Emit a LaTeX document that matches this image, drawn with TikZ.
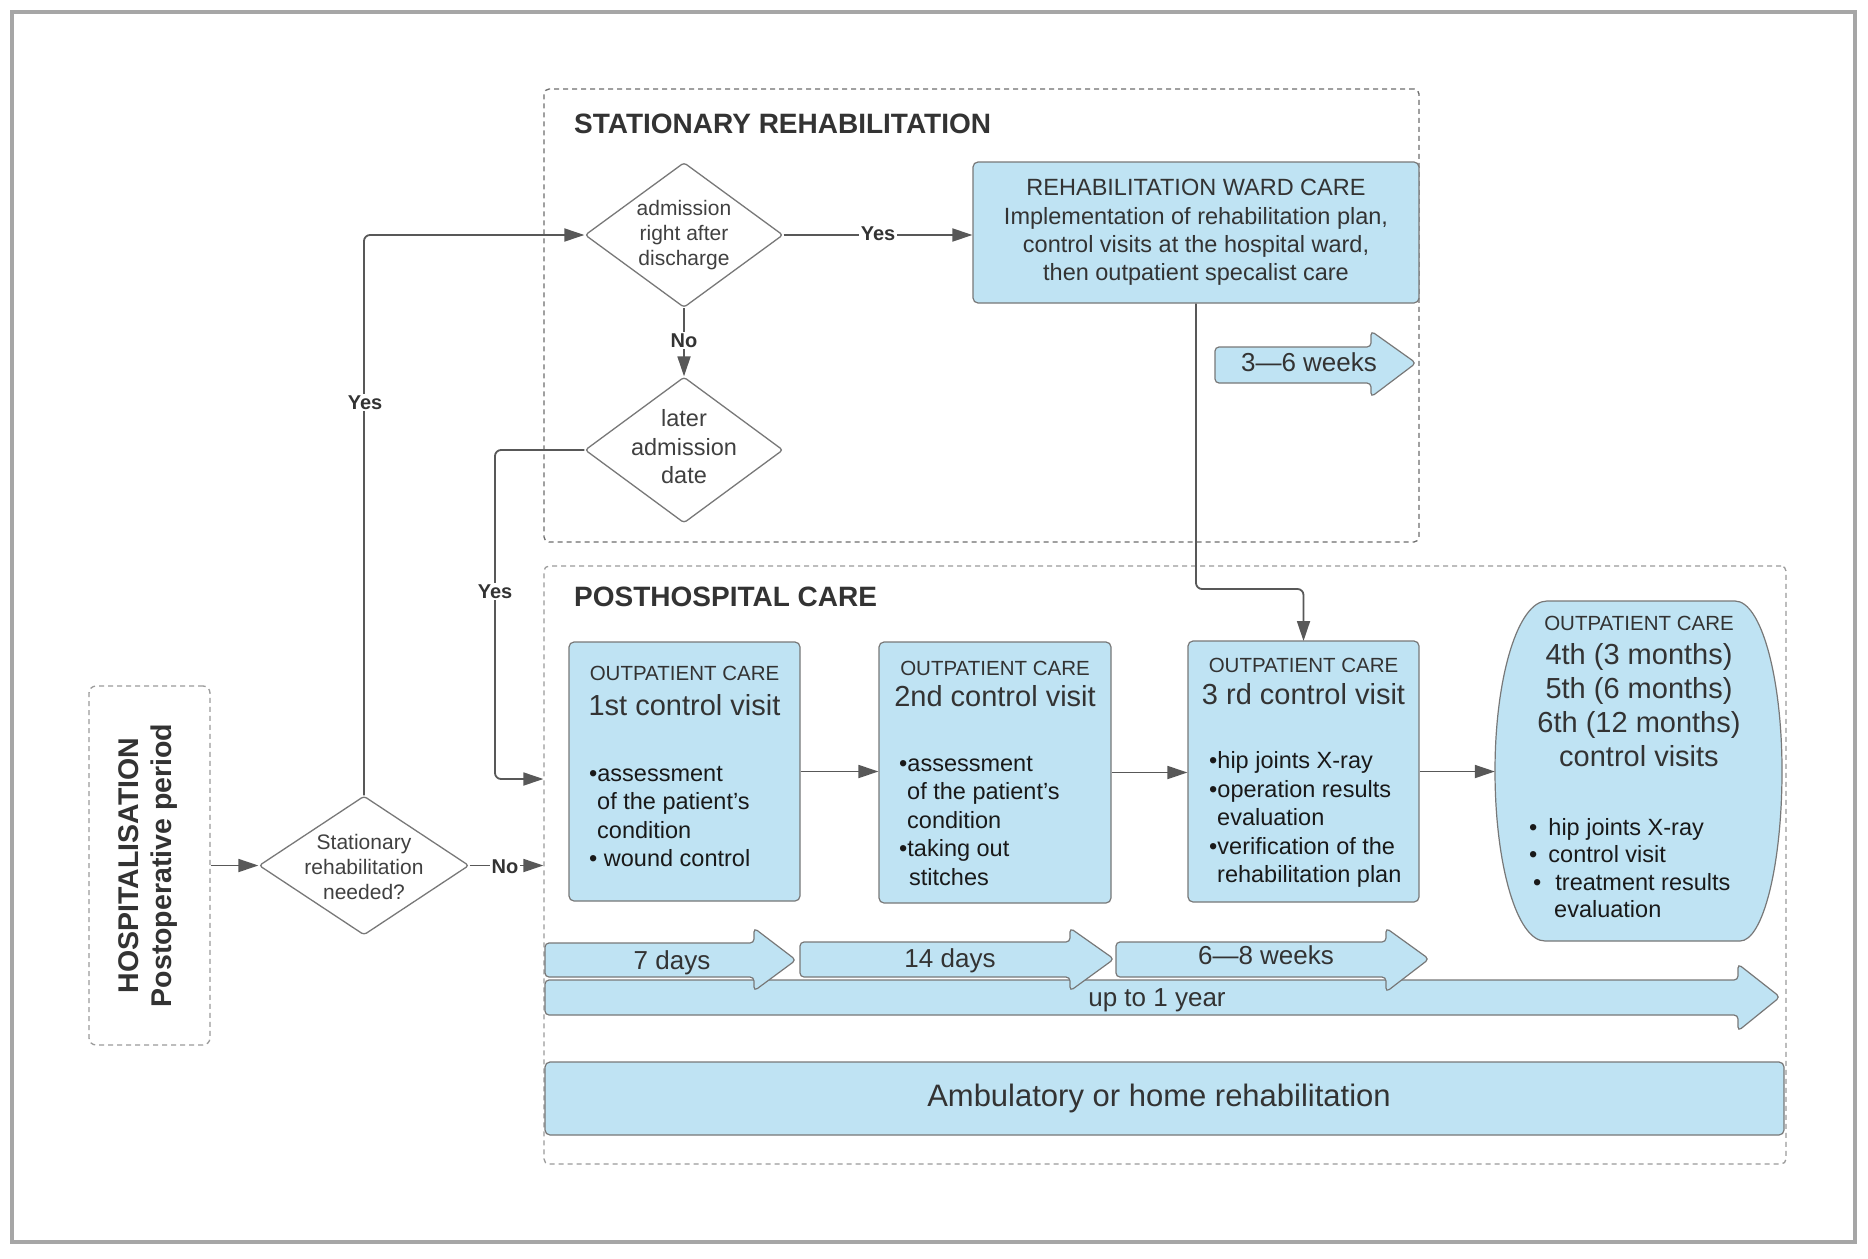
\documentclass[tikz,border=0pt]{standalone}
\usepackage{fontspec}
\setmainfont{Liberation Sans}
\usetikzlibrary{arrows.meta,shapes.geometric}
\definecolor{bfill}{RGB}{191,227,243}
\definecolor{bline}{RGB}{120,120,120}
\definecolor{conncol}{RGB}{88,88,88}
\definecolor{txt}{RGB}{51,51,51}
\definecolor{btxt}{RGB}{25,25,25}
\definecolor{dtxt}{RGB}{64,64,64}
\definecolor{framecol}{RGB}{166,166,166}
\definecolor{dashA}{RGB}{110,110,110}
\definecolor{dashB}{RGB}{155,155,155}
\newcommand{\myfs}[2]{\fontsize{#1pt}{#2pt}\selectfont}
\begin{document}
\begin{tikzpicture}[x=1pt,y=-1pt,
  box/.style={draw=bline, fill=bfill, line width=1.2pt, rounded corners=5pt, inner sep=0pt},
  container/.style={draw=dashB, line width=1.3pt, dash pattern=on 5pt off 4pt, rounded corners=5pt, inner sep=0pt},
  dia/.style={diamond, draw=bline, line width=1.3pt, rounded corners=3pt, inner sep=0pt, fill=white},
  link/.style={draw=conncol, line width=1.8pt, rounded corners=6pt, -{Triangle[length=20pt,width=13pt]}},
  lab/.style={font=\bfseries\myfs{20}{24}, text=txt, fill=white, inner sep=1.5pt, anchor=base},
  hdr/.style={anchor=base, inner sep=0pt, font=\myfs{20.5}{24}, text=txt},
  big/.style={anchor=base, inner sep=0pt, font=\myfs{29}{34}, text=txt},
  bul/.style={anchor=west, align=left, inner sep=0pt, font=\myfs{23.5}{28.5}, text=btxt},
  dtext/.style={align=center, inner sep=0pt, text=dtxt},
  tlab/.style={anchor=base, inner sep=0pt, font=\myfs{26}{30}, text=txt},
  tarr/.style={draw=bline, fill=bfill, line width=1.2pt, rounded corners=4pt},
  ttl/.style={anchor=base west, inner sep=0pt, font=\bfseries\myfs{28}{32}, text=txt}
]
\useasboundingbox (0,0) rectangle (1868,1258);
\fill[white] (0,0) rectangle (1868,1258);
\draw[framecol, line width=3.5pt] (12,12) rectangle (1855,1242);

% containers
\node[container, draw=dashA, minimum width=875pt, minimum height=453pt] (stat) at (981.5,315.5) {};
\node[container, minimum width=1242pt, minimum height=598pt] (post) at (1165,865) {};
\node[container, minimum width=121pt, minimum height=359pt, rounded corners=7pt] (hosp) at (149.5,865.5) {};
\node[rotate=90, align=center, font=\bfseries\myfs{28.5}{33}, text=txt, inner sep=0pt] (hospt) at (148,865.5) {HOSPITALISATION\\Postoperative period};

\node[ttl] (stitle) at (574,133) {STATIONARY REHABILITATION};
\node[ttl] (ptitle) at (574,606) {POSTHOSPITAL CARE};

% diamonds
\node[dia, minimum width=198pt, minimum height=145pt] (d1) at (684,235) {};
\node[dtext, font=\myfs{21}{25}] (d1t) at (684,235) {admission\\right after\\discharge};
\node[dia, minimum width=198pt, minimum height=146pt] (d2) at (684,450) {};
\node[dtext, font=\myfs{23.5}{28.5}] (d2t) at (684,447) {later\\admission\\date};
\node[dia, minimum width=210pt, minimum height=139pt] (d3) at (364,865.5) {};
\node[dtext, font=\myfs{21}{25}] (d3t) at (364,867) {Stationary\\rehabilitation\\needed?};

% time arrows
\draw[tarr] (545,980) -- (1738,980) -- (1738,964) -- (1780,997) -- (1738,1031) -- (1738,1015) -- (545,1015) -- cycle;
\draw[tarr] (545,943) -- (754,943) -- (754,928) -- (796,960) -- (754,991) -- (754,977) -- (545,977) -- cycle;
\draw[tarr] (800,942) -- (1070,942) -- (1070,928) -- (1114,959) -- (1070,991) -- (1070,977) -- (800,977) -- cycle;
\draw[tarr] (1116,942) -- (1386,942) -- (1386,928) -- (1429,959) -- (1386,992) -- (1386,977) -- (1116,977) -- cycle;
\draw[tarr] (1215,347) -- (1371,347) -- (1371,331) -- (1416,363) -- (1371,397) -- (1371,383) -- (1215,383) -- cycle;
\node[tlab] (t7) at (672,969) {7 days};
\node[tlab] (t14) at (950,967) {14 days};
\node[tlab] (t68) at (1266,964) {6—8 weeks};
\node[tlab] (ty) at (1157,1006) {up to 1 year};
\node[tlab] (t36) at (1309,371) {3—6 weeks};

% oval placeholder node
\node[minimum width=287pt, minimum height=340pt, inner sep=0pt] (ov) at (1638.5,771) {};

% connectors
\coordinate (c2) at (495,779);
\coordinate (c3) at (1196,589);
\draw[link] (hosp.east) -- (d3.west);
\draw[link] (d3.north) |- (d1.west);
\draw[link] (d3.east) -- (d3.east -| post.west);
\draw[link] (d1.south) -- (d2.north);
\draw[link] (d2.west) -| (c2) -- (c2 -| post.west);

% boxes
\node[box, minimum width=446pt, minimum height=141pt, align=center, font=\myfs{23.5}{28.3}, text=txt] (rw) at (1196,232.5) {REHABILITATION WARD CARE\\Implementation of rehabilitation plan,\\control visits at the hospital ward,\\then outpatient specalist care};
\draw[link] (d1.east) -- (d1.east -| rw.west);
\draw[link] (rw.south) -- (c3) -| (1303.5,641);

\node[box, minimum width=231pt, minimum height=259pt] (b1) at (684.5,771.5) {};
\node[box, minimum width=232pt, minimum height=261pt] (b2) at (995,772.5) {};
\node[box, minimum width=231pt, minimum height=261pt] (b3) at (1303.5,771.5) {};
\draw[box, sharp corners] (1547,601) -- (1735,601) .. controls (1761,601) and (1782,677) .. (1782,771) .. controls (1782,865) and (1763,941) .. (1740,941) -- (1545,941) .. controls (1517,941) and (1495,865) .. (1495,771) .. controls (1495,677) and (1518,601) .. (1547,601) -- cycle;

\draw[link] (b1.east) -- (b1.east -| b2.west);
\draw[link] (b2.east) -- (b2.east -| b3.west);
\draw[link] (b3.east) -- (b3.east -| ov.west);

\node[hdr] (b1h) at (684.5,680) {OUTPATIENT CARE};
\node[big] (b1v) at (684.5,715) {1st control visit};
\node[bul] (b1l) at (589,816.5) {•assessment\\\hspace*{8pt}of the patient's\\\hspace*{8pt}condition\\• wound control};

\node[hdr] (b2h) at (995,675) {OUTPATIENT CARE};
\node[big] (b2v) at (995,706) {2nd control visit};
\node[bul] (b2l) at (899,821) {•assessment\\\hspace*{8pt}of the patient's\\\hspace*{8pt}condition\\•taking out\\\hspace*{10pt}stitches};

\node[hdr] (b3h) at (1303.5,672) {OUTPATIENT CARE};
\node[big] (b3v) at (1303.5,704) {3 rd control visit};
\node[bul] (b3l) at (1209,819.5) {•hip joints X-ray\\•operation results\\\hspace*{8pt}evaluation\\•verification of the\\\hspace*{8pt}rehabilitation plan};

\node[hdr] (ovh) at (1639,630) {OUTPATIENT CARE};
\node[align=center, font=\myfs{29}{34}, text=txt, inner sep=0pt] (ovv) at (1639,705) {4th (3 months)\\5th (6 months)\\6th (12 months)\\control visits};
\node[bul, font=\myfs{23.5}{27.5}] (ovl) at (1529,868) {•\hspace{11pt}hip joints X-ray\\•\hspace{11pt}control visit\\\hspace*{4pt}•\hspace{14pt}treatment results\\\hspace*{25pt}evaluation};

\node[box, minimum width=1239pt, minimum height=73pt] (amb) at (1164.5,1098.5) {};
\node[anchor=base, inner sep=0pt, font=\myfs{31}{36}, text=txt] (ambt) at (1159,1106) {Ambulatory or home rehabilitation};

% labels
\node[lab] (y1) at (365,409) {Yes};
\node[lab] (y2) at (495,598) {Yes};
\node[lab] (y3) at (878,240) {Yes};
\node[lab] (n1) at (684,347) {No};
\node[lab] (n2) at (505,873) {No};
\end{tikzpicture}
\end{document}
